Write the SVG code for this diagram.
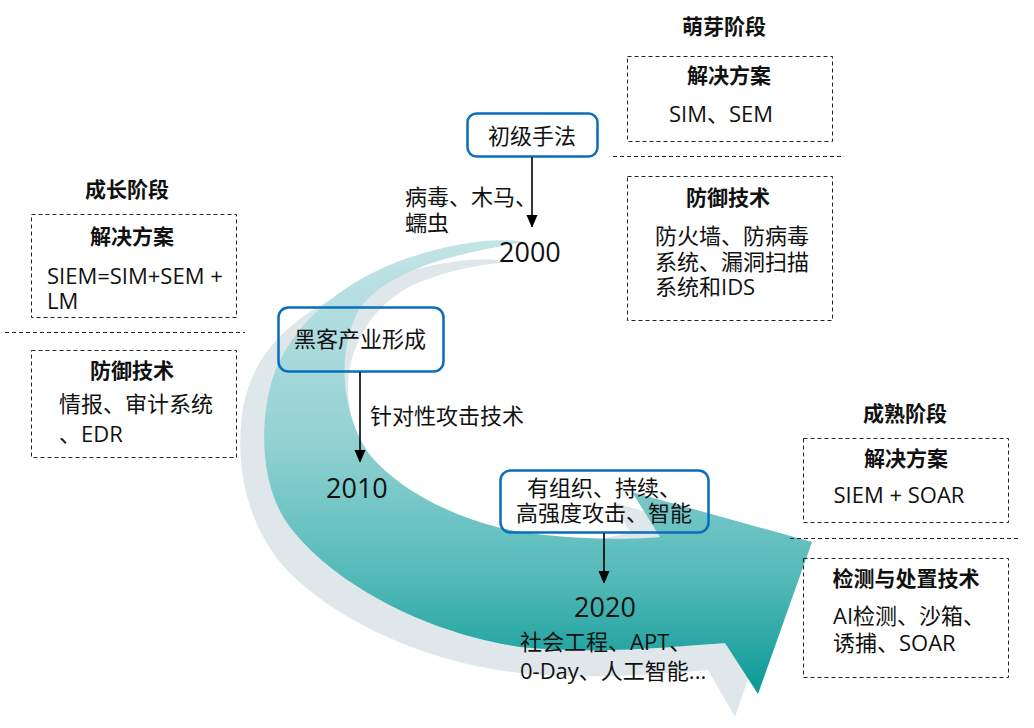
<svg xmlns="http://www.w3.org/2000/svg" width="1034" height="728" viewBox="0 0 1034 728">
<style>
text{font-family:"Open Sans","Noto Sans CJK SC",sans-serif;font-size:22px;fill:#111;}
.t{font-weight:bold;font-size:21px;}
.m{text-anchor:middle;}
.yr{font-size:27px;}
.dash{fill:none;stroke:#222;stroke-width:1;stroke-dasharray:4 3;}
.blue{fill:none;stroke:#0a6ebd;stroke-width:2.5;}
.conn{stroke:#000;stroke-width:1.6;fill:none;}
</style>
<defs>
<linearGradient id="tg" gradientUnits="userSpaceOnUse" x1="0" y1="238" x2="0" y2="694">
<stop offset="0" stop-color="#c4e4e7"/>
<stop offset="0.45" stop-color="#92d1d2"/>
<stop offset="0.75" stop-color="#52b9b8"/>
<stop offset="1" stop-color="#0a9995"/>
</linearGradient>
<marker id="ah" markerUnits="userSpaceOnUse" markerWidth="12" markerHeight="14" viewBox="0 0 12 14" refX="6" refY="13" orient="auto-start-reverse">
<path d="M0,0 L12,0 L6,14 Z" fill="#000" transform="rotate(-90 6 7)"/>
</marker>
<marker id="arr" markerUnits="userSpaceOnUse" markerWidth="11" markerHeight="13" viewBox="0 0 11 13" refX="12" refY="5.5" orient="auto">
<path d="M0,0 L13,5.5 L0,11 Z" fill="#000"/>
</marker>
</defs>

<g id="shadow-arrow">
<path fill="#dfe7ea" d="M515,262 C470,255 430,264 380,280 C300,305 250,350 242,415 C235,470 248,535 297,580 C350,628 440,668 540,675 C610,679 670,673 708,670 L735,717 L790,556 L613,502 L630,532 C580,548 500,545 440,520 C380,495 350,440 348,390 C347,345 375,300 420,282 C455,268 490,263 515,262 Z"/>
</g>
<g id="main-arrow">
<path fill="url(#tg)" d="M525,242 C490,236 440,246 397,262 C340,284 290,325 272,380 C258,430 262,490 290,527 C330,580 420,632 520,647 C600,655 680,646 725,643 L758,694 L812,542 L632,492 L660,537 C620,541 540,538 497,527 C440,512 395,485 370,455 C338,410 338,345 360,308 C385,275 440,255 525,242 Z"/>
</g>

<g id="stage-sprout">
<text class="t m" x="724" y="34">萌芽阶段</text>
<rect class="dash" x="627.5" y="56.5" width="205" height="85"/>
<text class="t m" x="729" y="83">解决方案</text>
<text class="m" x="721" y="122">SIM、SEM</text>
<line class="dash" x1="613" y1="156.5" x2="842" y2="156.5"/>
<rect class="dash" x="627.5" y="176.5" width="205" height="144"/>
<text class="t m" x="728" y="205">防御技术</text>
<text x="655" y="244">防火墙、防病毒</text>
<text x="655" y="270">系统、漏洞扫描</text>
<text x="655" y="295">系统和IDS</text>
</g>

<g id="stage-growth">
<text class="t m" x="127" y="197">成长阶段</text>
<rect class="dash" x="31.5" y="214.5" width="205" height="103"/>
<text class="t m" x="132" y="244">解决方案</text>
<text x="47" y="284">SIEM=SIM+SEM +</text>
<text x="47" y="309">LM</text>
<line class="dash" x1="5" y1="332.5" x2="245" y2="332.5"/>
<rect class="dash" x="31.5" y="350.5" width="205" height="107"/>
<text class="t m" x="132" y="378">防御技术</text>
<text x="59" y="412">情报、审计系统</text>
<text x="59" y="442">、EDR</text>
</g>

<g id="stage-mature">
<text class="t m" x="905" y="421">成熟阶段</text>
<rect class="dash" x="803.5" y="438.5" width="205" height="84"/>
<text class="t m" x="906" y="466">解决方案</text>
<text class="m" x="899" y="503">SIEM + SOAR</text>
<line class="dash" x1="790" y1="538.5" x2="1018" y2="538.5"/>
<rect class="dash" x="803.5" y="558.5" width="205" height="119"/>
<text class="t m" x="906" y="586">检测与处置技术</text>
<text x="833" y="624">AI检测、沙箱、</text>
<text x="833" y="651">诱捕、SOAR</text>
</g>

<g id="node-2000">
<rect class="blue" x="467.5" y="113.5" width="130" height="43" rx="9"/>
<text class="m" x="532" y="144">初级手法</text>
<text x="405" y="205">病毒、木马、</text>
<text x="405" y="231">蠕虫</text>
<text class="yr" x="499" y="262">2000</text>
</g>

<g id="node-2010">
<rect class="blue" x="278.5" y="307.5" width="165" height="64" rx="10"/>
<text class="m" x="360" y="347">黑客产业形成</text>
<text x="370" y="424">针对性攻击技术</text>
<text class="yr" x="326" y="498">2010</text>
</g>

<g id="node-2020">
<rect class="blue" x="500.5" y="470.5" width="208" height="62" rx="10"/>
<text class="m" x="604" y="496">有组织、持续、</text>
<text class="m" x="604" y="521">高强度攻击、智能</text>
<text class="yr m" x="605" y="617">2020</text>
<text x="520" y="650">社会工程、APT、</text>
<text x="520" y="679">0-Day、人工智能...</text>
</g>

<g id="connectors">
<line class="conn" x1="532" y1="157" x2="532" y2="227" marker-end="url(#arr)"/>
<line class="conn" x1="360" y1="372" x2="360" y2="462" marker-end="url(#arr)"/>
<line class="conn" x1="604" y1="533" x2="604" y2="583" marker-end="url(#arr)"/>
</g>
</svg>
